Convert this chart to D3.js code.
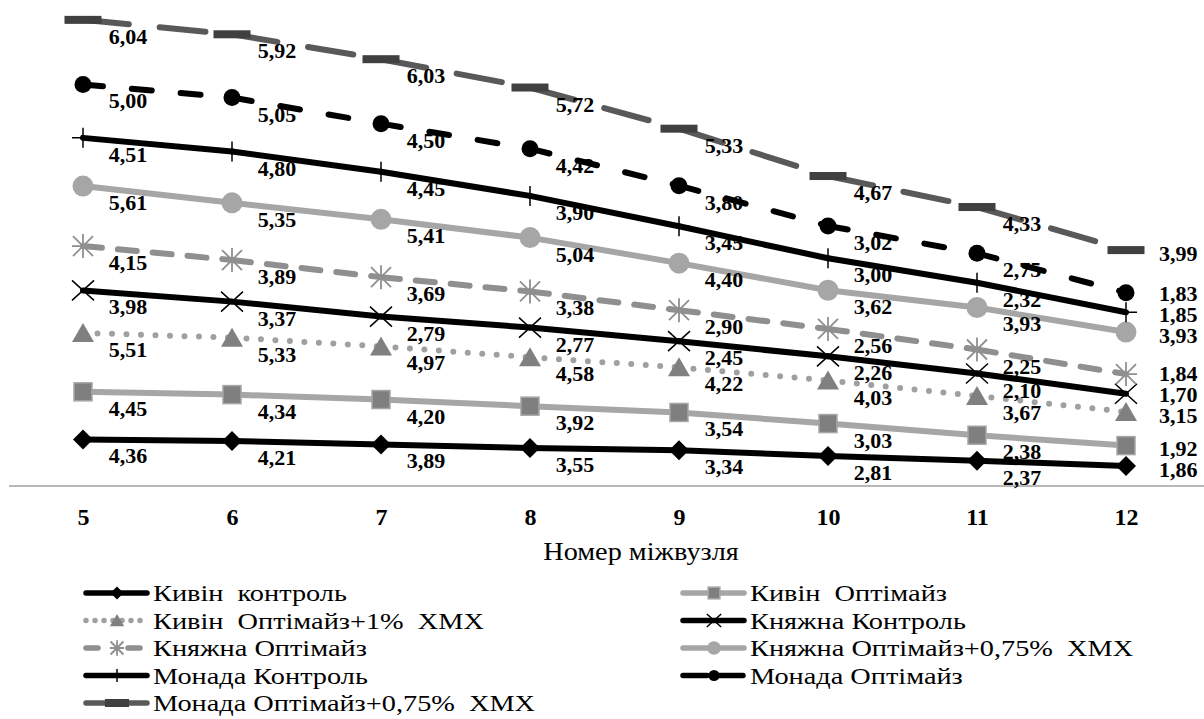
<!DOCTYPE html>
<html>
<head>
<meta charset="utf-8">
<script src="https://cdn.jsdelivr.net/npm/d3@7/dist/d3.min.js"></script>
<style>
  body { margin: 0; background: #fff; }
  svg text { font-family: "Liberation Serif", "DejaVu Serif", "Noto Serif", serif; white-space: pre; }
</style>
</head>
<body>
<svg id="chart" width="1204" height="719"></svg>
<script>
// node numbers on the x axis
var categories = [5, 6, 7, 8, 9, 10, 11, 12];

var seriesNames = [
  'Кивін  контроль',
  'Кивін  Оптімайз',
  'Кивін  Оптімайз+1%  ХМХ',
  'Княжна Контроль',
  'Княжна Оптімайз',
  'Княжна Оптімайз+0,75%  ХМХ',
  'Монада Контроль',
  'Монада Оптімайз',
  'Монада Оптімайз+0,75%  ХМХ'
];

var kyvinControl     = [4.36, 4.21, 3.89, 3.55, 3.34, 2.81, 2.37, 1.86];
var kyvinOptimize    = [4.45, 4.34, 4.20, 3.92, 3.54, 3.03, 2.38, 1.92];
var kyvinOptXmx      = [5.51, 5.33, 4.97, 4.58, 4.22, 4.03, 3.67, 3.15];
var kniazhnaControl  = [3.98, 3.37, 2.79, 2.77, 2.45, 2.26, 2.10, 1.70];
var kniazhnaOptimize = [4.15, 3.89, 3.69, 3.38, 2.90, 2.56, 2.25, 1.84];
var kniazhnaOptXmx   = [5.61, 5.35, 5.41, 5.04, 4.40, 3.62, 3.93, 3.93];
var monadaControl    = [4.51, 4.80, 4.45, 3.90, 3.45, 3.00, 2.32, 1.85];
var monadaOptimize   = [5.00, 5.05, 4.50, 4.42, 3.80, 3.02, 2.75, 1.83];
var monadaOptXmx     = [6.04, 5.92, 6.03, 5.72, 5.33, 4.67, 4.33, 3.99];

var seriesValues = [kyvinControl, kyvinOptimize, kyvinOptXmx, kniazhnaControl,
  kniazhnaOptimize, kniazhnaOptXmx, monadaControl, monadaOptimize, monadaOptXmx];

// look of each series (line colour, dash in plot and in legend, marker)
var styles = [
  { stroke: '#000',    dash: null,     legendDash: null,    marker: 'diamond' },
  { stroke: '#a6a6a6', dash: null,     legendDash: null,    marker: 'square' },
  { stroke: '#a0a0a0', dash: '0,14.5', legendDash: '0,9',   marker: 'triangle' },
  { stroke: '#000',    dash: null,     legendDash: null,    marker: 'cross' },
  { stroke: '#8f8f8f', dash: '19,16',  legendDash: '12,30', marker: 'star' },
  { stroke: '#a6a6a6', dash: null,     legendDash: null,    marker: 'circleGray' },
  { stroke: '#000',    dash: null,     legendDash: null,    marker: 'plus' },
  { stroke: '#000',    dash: '20,29',  legendDash: '24,12', marker: 'circleBlack' },
  { stroke: '#595959', dash: '46,31',  legendDash: null,    marker: 'dash' }
];

var FONT = '"Liberation Serif", "DejaVu Serif", "Noto Serif", serif';

var svg = d3.select('#chart');

var x = d3.scalePoint()
    .domain(categories)
    .range([8.5, 1200.5])
    .padding(0.5);

var y = d3.scaleLinear()
    .domain([0, 45])
    .range([486, 5]);

// text placed at (tx,ty) and stretched sideways like the reference glyphs
function wideText(parent, tx, ty, sx) {
  return parent.append('text')
      .attr('transform', 'translate(' + tx + ',' + ty + ') scale(' + sx + ',1)')
      .style('font-family', FONT);
}

// stacked table
var table = categories.map(function(c, i) {
  var row = { cat: c };
  seriesNames.forEach(function(n, k) { row[n] = seriesValues[k][i]; });
  return row;
});
var stacked = d3.stack().keys(seriesNames)(table);

// axis line + tick labels
svg.append('line')
    .attr('x1', 9).attr('x2', 1204)
    .attr('y1', y(0)).attr('y2', y(0))
    .style('stroke', '#a0a0a0')
    .style('stroke-width', 1.5);

var xAxis = svg.append('g')
    .attr('transform', 'translate(0,' + y(0) + ')')
    .call(d3.axisBottom(x).tickSize(0).tickPadding(0));
xAxis.attr('font-family', null);
xAxis.select('.domain').remove();
xAxis.selectAll('text')
    .attr('dy', null)
    .attr('y', 39)
    .style('font-family', FONT)
    .style('font-size', '24px')
    .style('font-weight', 'bold')
    .style('fill', '#000');

wideText(svg, 641, 560, 1.13)
    .attr('text-anchor', 'middle')
    .style('font-size', '25px')
    .text('Номер міжвузля');

function drawMarker(g, type, k) {
  k = k || 1;
  switch (type) {
    case 'diamond':
      g.append('path').attr('d', d3.line()([[0, -10 * k], [10 * k, 0], [0, 10 * k], [-10 * k, 0]]) + 'Z')
          .style('fill', '#000');
      break;
    case 'square':
      g.append('rect').attr('x', -9 * k).attr('y', -9 * k).attr('width', 18 * k).attr('height', 18 * k)
          .style('fill', '#7f7f7f').style('stroke', '#a6a6a6').style('stroke-width', 1.5);
      break;
    case 'triangle':
      g.append('path').attr('d', d3.line()([[0, -10 * k], [11 * k, 9 * k], [-11 * k, 9 * k]]) + 'Z')
          .style('fill', '#808080');
      break;
    case 'cross':
      g.append('path').attr('d', 'M' + (-11 * k) + ',' + (-10 * k) + 'L' + (11 * k) + ',' + (10 * k) +
          'M' + (-11 * k) + ',' + (10 * k) + 'L' + (11 * k) + ',' + (-10 * k))
          .style('stroke', '#000').style('stroke-width', 1.5).style('fill', 'none');
      break;
    case 'star':
      g.append('path').attr('d', 'M' + (-10 * k) + ',' + (-10 * k) + 'L' + (10 * k) + ',' + (10 * k) +
          'M' + (-10 * k) + ',' + (10 * k) + 'L' + (10 * k) + ',' + (-10 * k) +
          'M0,' + (-12 * k) + 'L0,' + (12 * k) + 'M' + (-11 * k) + ',0L' + (11 * k) + ',0')
          .style('stroke', '#8f8f8f').style('stroke-width', 1.8).style('fill', 'none');
      break;
    case 'circleGray':
      g.append('circle').attr('r', 10.5 * k).style('fill', '#a6a6a6');
      break;
    case 'plus':
      g.append('path').attr('d', 'M0,' + (-10 * k) + 'L0,' + (10 * k) + 'M' + (-11 * k) + ',0L' + (11 * k) + ',0')
          .style('stroke', '#000').style('stroke-width', 1.5).style('fill', 'none');
      break;
    case 'circleBlack':
      g.append('circle').attr('r', 8.5 * k).style('fill', '#000');
      break;
    case 'dash':
      g.append('rect').attr('x', -18.5 * k).attr('y', -4).attr('width', 37 * k).attr('height', 8)
          .style('fill', '#404040');
      break;
  }
}

var line = d3.line();

var layers = svg.selectAll('.series')
    .data(stacked)
  .enter().append('g')
    .attr('class', 'series');

layers.each(function(s, k) {
  var g = d3.select(this),
      st = styles[k],
      pts = s.map(function(d, i) { return [x(categories[i]), y(d[1])]; });

  // one segment per interval so the dash pattern restarts at every point
  d3.pairs(pts).forEach(function(p) {
    g.append('path')
        .attr('d', line(p))
        .style('fill', 'none')
        .style('stroke', st.stroke)
        .style('stroke-width', 6)
        .style('stroke-linecap', 'round')
        .style('stroke-dasharray', st.dash);
  });

  pts.forEach(function(p) {
    drawMarker(g.append('g').attr('transform', 'translate(' + p[0] + ',' + p[1] + ')'), st.marker);
  });
});

// right-hand labels: keep them apart, bottom series first
var lastIdx = categories.length - 1;
var lastY = stacked.map(function(s) { return y(s[lastIdx][1]) + 11; });
for (var i = 1; i < lastY.length; i++) {
  if (lastY[i - 1] - lastY[i] < 21) lastY[i] = lastY[i - 1] - 21;
}

// value labels: below-right of each point, at the right of the last one
var labels = svg.append('g');
stacked.forEach(function(s, k) {
  s.forEach(function(d, i) {
    var last = i === lastIdx;
    wideText(labels,
        x(categories[i]) + (last ? 33 : 45),
        last ? lastY[k] : y(d[1]) + 24,
        1.1)
        .attr('text-anchor', last ? 'start' : 'middle')
        .style('font-size', '20px')
        .style('font-weight', 'bold')
        .text(d3.format('.2f')(seriesValues[k][i]).replace('.', ','));
  });
});

// legend, two columns
var legend = svg.append('g');
seriesNames.forEach(function(n, k) {
  var col = k % 2,
      row = Math.floor(k / 2),
      x0 = col ? 680 : 83,
      y0 = 593 + row * 27.5,
      st = styles[k],
      item = legend.append('g').attr('transform', 'translate(' + x0 + ',' + y0 + ')');

  item.append('path')
      .attr('d', line([[3, 0], [64, 0]]))
      .style('fill', 'none')
      .style('stroke', st.stroke)
      .style('stroke-width', 5.5)
      .style('stroke-linecap', 'round')
      .style('stroke-dasharray', st.legendDash);

  drawMarker(item.append('g').attr('transform', 'translate(34,0)'), st.marker, 0.65);

  wideText(item, 70, 8, 1.18)
      .style('font-size', '24px')
      .text(n);
});
</script>
</body>
</html>
